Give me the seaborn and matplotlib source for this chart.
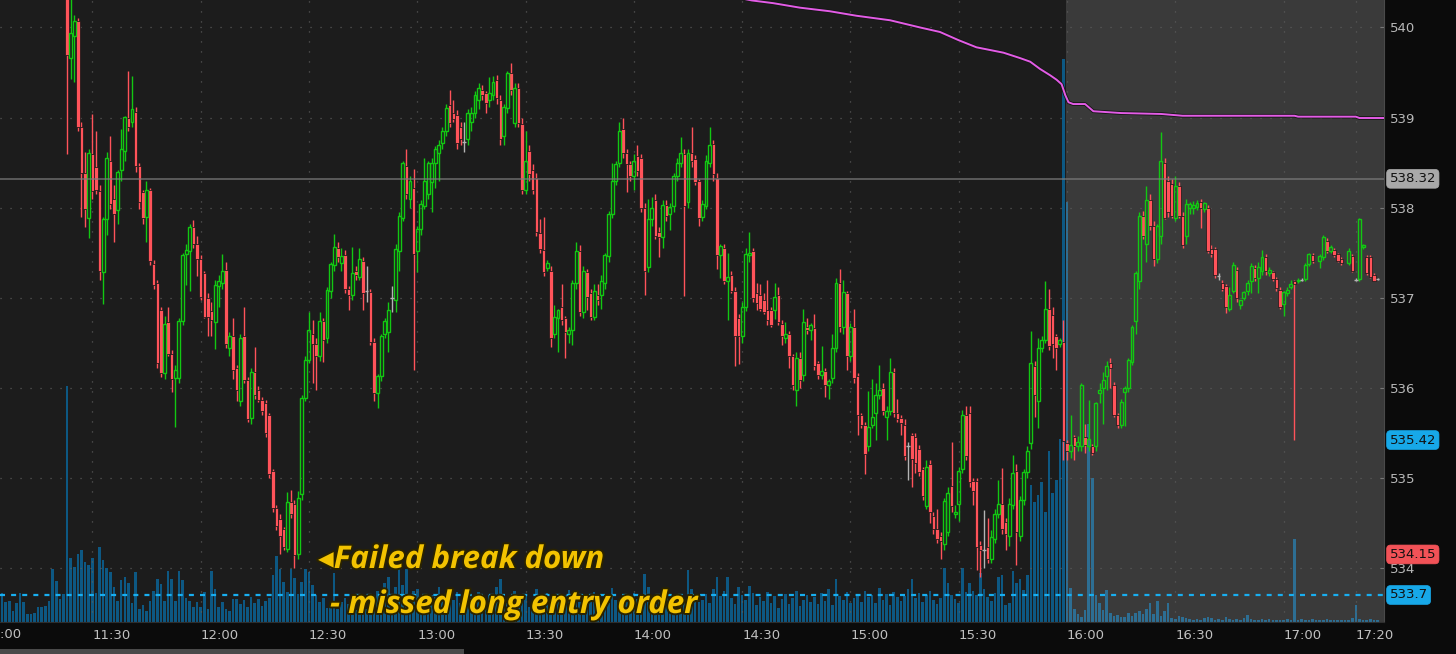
import numpy as np
import pandas as pd
import matplotlib
matplotlib.use("Agg")
import matplotlib.pyplot as plt
import matplotlib.patheffects as pe
from matplotlib.patches import Rectangle
import seaborn as sns

nan = float("nan")

# 1-minute candles, minutes counted from 11:00, first visible candle at 11:23
first_minute = 23
opens = [
    540.60, 539.66, 539.90, 540.07, 538.89, 538.38, 537.89, 538.60, 538.45, 538.19,
    537.28, 537.87, 538.52, 538.10, 537.97, 538.42, 538.63, 539.00, 538.95, 539.06,
    538.46, 538.17, 537.90, 538.20, 537.37, 537.16, 536.86, 536.16, 536.73, 536.38,
    536.11, 536.11, 536.74, 537.48, 537.52, 537.78, 537.60, 537.43, 537.27, 537.00,
    536.85, 536.73, 537.13, 537.16, 537.31, 536.44, 536.58, 536.22, 535.85,
    536.57, 536.09, 535.67, 536.18, 535.98, 535.87, 535.83, 535.70, 535.08, 534.67,
    534.54, 534.43, 534.21, 534.73, 534.71, 534.16, 534.82, 535.89, 536.31, 536.60,
    536.49, 536.35, 536.74, 536.55, 537.08, 537.36, 537.55, 537.38, 537.47, 537.10,
    537.03, 537.30, 537.23, 537.41, 537.07, 537.06, 536.51, 535.94, 536.13, 536.60,
    536.62, 537.00, 536.97, 537.52, 537.89, 538.46, 538.10, 538.22, 537.52, 537.76,
    538.02, 538.15, 538.28, 538.50, 538.61, 538.72, 538.85, 539.14, 539.05, 539.03,
    538.90, 538.73, 538.76,
    538.95, 539.05, 539.20, 539.31, 539.27, 539.20, 539.25, 539.42, 539.20, 538.79,
    539.11, 539.49, 538.94, 539.33, 538.93, 538.20, 538.63, 538.42, 538.33, 537.72,
    537.53, 537.33, 537.30, 536.60, 536.77, 536.90, 536.77, 536.60, 536.64, 537.16,
    537.52, 536.84, 537.28, 537.05, 536.79, 537.03, 537.03, 537.16, 537.46, 537.93,
    538.30, 538.50, 538.87, 538.61, 538.48, 538.35, 538.57, 538.55, 538.00, 537.34,
    537.87, 538.08, 537.73, 537.67, 538.03, 537.93, 538.02, 538.35, 538.50, 538.59,
    538.06, 538.61, 538.54, 538.30,
    537.90, 538.02, 538.50, 538.71, 538.33, 537.47, 537.55, 537.18, 537.25, 537.08,
    536.78, 536.57, 536.90, 537.47, 537.52, 537.05, 537.03, 536.97, 536.86, 536.86,
    536.86, 537.03, 536.71, 536.55, 536.60, 536.35, 535.98, 536.33, 536.14, 536.68,
    536.64, 536.66, 536.27, 536.14, 536.19, 536.03, 536.11, 536.44, 537.16, 536.68,
    537.05, 536.35, 536.68, 536.13, 535.70, 535.59, 535.35, 535.59, 535.72, 535.92,
    536.00, 535.68, 535.74, 536.18, 535.72, 535.67, 535.59, 535.35, 535.48, 535.45,
    535.32, 535.10,
    534.69, 535.15, 534.58, 534.43, 534.35, 534.27, 534.40, 534.91, 534.60, 534.71,
    535.10, 535.70, 535.72, 534.97, 534.97, 534.25, 534.20, 534.23, 534.10, 534.32,
    534.60, 534.71, 534.51, 534.36, 534.70, 535.08, 534.36, 534.75, 535.06, 535.39,
    536.24, 535.85, 536.44, 536.53, 536.88, 536.81, 536.57, 536.49, 536.51, 535.39,
    535.30, 535.45, 535.35, 535.35, 535.45, 535.35, 535.35, 535.35, 535.94, 536.00,
    536.13, 536.27, 536.03, 535.70, 535.59, 535.95, 536.00, 536.29, 536.74, 537.19,
    537.91, 537.60, 538.08, 537.80,
    537.43, 537.69, 538.50, 538.30, 538.26, 537.89, 538.24, 537.91, 537.69, 538.00,
    538.00, 538.01, 538.06, 537.98, 538.00, 537.54, 537.54, 537.24, 537.16, 537.13,
    536.88, 537.08, 537.31, 536.92, 537.00, 537.08, 537.19, 537.33, 537.22, 537.30,
    537.45, 537.27, 537.28, 537.21, 537.09, 536.93, 537.05, 537.12, 537.18, 537.18,
    537.20, 537.21, 537.37, 537.47, nan, 537.41, 537.45, 537.63, 537.52, 537.53,
    537.49, 537.43, nan, 537.38, 537.46, 537.20, 537.21, 537.56, 537.45, 537.45,
    537.25, 537.21,
]
highs = [
    540.80, 540.35, 540.14, 540.10, 538.95, 538.62, 538.65, 539.04, 538.85, 538.25,
    537.90, 538.62, 538.80, 538.25, 538.42, 538.87, 539.02, 539.52, 539.46, 539.12,
    538.50, 538.20, 538.30, 538.22, 537.42, 537.20, 536.90, 536.80, 536.90, 536.42,
    536.25, 536.78, 537.50, 537.60, 537.82, 537.86, 537.68, 537.47, 537.30, 537.05,
    536.95, 537.20, 537.25, 537.48, 537.40, 536.62, 536.78, 536.25, 536.60,
    536.90, 536.12, 536.22, 536.45, 536.02, 535.90, 535.86, 535.72, 535.10, 534.70,
    534.60, 534.45, 534.84, 534.86, 534.75, 534.85, 535.92, 536.35, 536.84, 536.75,
    536.55, 536.84, 536.78, 537.12, 537.40, 537.71, 537.62, 537.55, 537.53, 537.13,
    537.56, 537.35, 537.55, 537.45, 537.35, 537.10, 536.55, 536.15, 536.60, 536.78,
    536.95, 537.13, 537.60, 537.95, 538.52, 538.65, 538.35, 538.43, 537.80, 538.08,
    538.55, 538.52, 538.55, 538.68, 538.75, 538.90, 539.15, 539.31, 539.20, 539.08,
    538.95, 538.95, 539.10,
    539.12, 539.30, 539.38, 539.36, 539.30, 539.45, 539.46, 539.47, 539.25, 539.15,
    539.52, 539.61, 539.38, 539.38, 539.00, 538.85, 538.70, 538.48, 538.38, 537.87,
    537.90, 537.42, 537.35, 536.92, 536.88, 537.15, 536.80, 536.68, 537.20, 537.62,
    537.58, 537.35, 537.32, 537.10, 537.15, 537.15, 537.25, 537.50, 537.96, 538.50,
    538.52, 538.95, 539.00, 538.65, 538.52, 538.60, 538.70, 538.60, 538.05, 538.10,
    538.12, 538.15, 537.78, 538.08, 538.08, 538.05, 538.38, 538.55, 538.78, 538.65,
    538.65, 538.90, 538.58, 538.32,
    538.08, 538.58, 538.90, 538.75, 538.38, 537.60, 537.60, 537.50, 537.30, 537.12,
    536.82, 536.95, 537.55, 537.73, 537.55, 537.16, 537.15, 537.05, 537.20, 536.90,
    537.16, 537.12, 536.75, 536.73, 536.63, 536.38, 536.40, 536.40, 536.88, 536.78,
    536.72, 536.82, 536.30, 536.46, 536.22, 536.10, 536.60, 537.22, 537.32, 537.20,
    537.08, 536.72, 536.88, 536.16, 535.72, 535.62, 535.96, 536.10, 536.05, 536.25,
    536.05, 535.80, 536.33, 536.22, 535.88, 535.70, 535.65, 535.40, 535.50, 535.50,
    535.36, 535.12,
    535.20, 535.20, 534.62, 534.65, 534.40, 534.78, 534.90, 535.40, 534.70, 535.12,
    535.75, 535.80, 535.80, 535.00, 535.00, 534.30, 534.64, 534.55, 534.42, 534.65,
    534.98, 535.11, 534.55, 534.78, 535.25, 535.15, 534.80, 535.10, 535.35, 536.63,
    536.30, 536.55, 536.58, 537.18, 537.10, 536.90, 536.60, 536.55, 536.75, 535.42,
    535.70, 535.48, 535.46, 536.05, 535.60, 535.87, 535.38, 535.84, 536.05, 536.18,
    536.30, 536.33, 536.06, 535.72, 535.88, 536.02, 536.33, 536.70, 537.30, 537.95,
    537.96, 538.24, 538.15, 537.85,
    537.82, 538.84, 538.55, 538.35, 538.32, 538.35, 538.28, 537.95, 538.10, 538.06,
    538.07, 538.08, 538.10, 538.06, 538.03, 537.58, 537.56, 537.27, 537.20, 537.15,
    537.12, 537.40, 537.34, 536.98, 537.08, 537.20, 537.38, 537.36, 537.40, 537.53,
    537.48, 537.34, 537.30, 537.23, 537.12, 537.08, 537.12, 537.20, 537.20, 537.22,
    537.22, 537.38, 537.50, 537.50, nan, 537.48, 537.70, 537.66, 537.58, 537.55,
    537.50, 537.45, nan, 537.55, 537.48, 537.22, 537.88, 537.60, 537.47, 537.47,
    537.27, 537.22,
]
lows = [
    538.60, 539.43, 539.40, 538.85, 537.90, 537.78, 537.66, 538.10, 538.15, 537.20,
    536.93, 537.70, 537.98, 537.62, 537.82, 538.30, 538.52, 538.85, 538.90, 538.40,
    537.98, 537.82, 537.62, 537.36, 537.10, 536.22, 536.12, 536.10, 536.35, 535.95,
    535.57, 536.05, 536.70, 537.14, 537.08, 537.55, 537.24, 536.98, 536.78, 536.57,
    536.57, 536.43, 536.90, 537.10, 536.44, 536.35, 536.10, 535.85, 535.80,
    536.05, 535.62, 535.60, 535.88, 535.84, 535.70, 535.45, 535.00, 534.62, 534.42,
    534.16, 534.20, 534.18, 534.55, 534.00, 534.10, 534.75, 535.85, 536.28, 536.05,
    535.98, 536.30, 536.29, 536.50, 537.00, 537.30, 537.40, 537.30, 537.05, 536.86,
    536.98, 537.20, 537.20, 536.86, 536.95, 536.48, 535.85, 535.78, 536.08, 536.55,
    536.40, 536.84, 536.84, 537.30, 537.85, 538.10, 538.00, 536.20, 537.28, 537.70,
    537.98, 538.10, 537.95, 538.22, 538.30, 538.65, 538.80, 538.90, 538.95, 538.65,
    538.70, 538.62, 538.70,
    538.85, 539.00, 539.10, 539.20, 539.05, 539.12, 539.20, 539.15, 538.70, 538.70,
    539.05, 539.25, 538.90, 538.90, 538.15, 538.15, 538.30, 538.15, 537.68, 537.50,
    537.24, 537.30, 536.45, 536.55, 536.40, 536.70, 536.33, 536.50, 536.48, 537.10,
    536.80, 536.78, 536.86, 536.75, 536.75, 536.92, 536.88, 537.10, 537.40, 537.88,
    538.25, 538.45, 538.55, 538.17, 538.30, 538.20, 538.35, 537.95, 537.03, 537.28,
    537.80, 537.65, 537.45, 537.55, 537.85, 537.75, 537.95, 538.30, 538.45, 537.02,
    538.00, 538.45, 538.25, 537.80,
    537.85, 537.98, 538.45, 538.30, 537.32, 537.22, 537.15, 536.75, 537.05, 536.24,
    536.26, 536.50, 536.85, 537.40, 536.95, 536.86, 536.85, 536.82, 536.70, 536.68,
    536.76, 536.70, 536.48, 536.50, 536.22, 535.97, 535.80, 536.00, 536.08, 536.60,
    536.53, 536.20, 536.10, 536.10, 535.90, 535.88, 536.05, 536.40, 536.62, 536.60,
    536.20, 536.30, 536.05, 535.48, 535.55, 535.04, 535.30, 535.55, 535.42, 535.88,
    535.70, 535.42, 535.70, 535.68, 535.62, 535.48, 535.20, 534.98, 534.90, 535.05,
    535.02, 534.75,
    534.65, 534.50, 534.38, 534.28, 534.10, 534.20, 534.35, 534.62, 534.55, 534.52,
    535.05, 535.20, 534.90, 534.70, 533.98, 533.90, 534.00, 534.05, 534.05, 534.28,
    534.55, 534.38, 534.20, 534.24, 534.65, 534.03, 534.30, 534.70, 535.00, 535.32,
    535.68, 535.55, 536.40, 536.50, 536.42, 536.33, 536.20, 536.45, 535.20, 535.20,
    535.22, 535.20, 535.30, 535.30, 535.28, 535.30, 535.25, 535.30, 535.83, 535.60,
    535.98, 536.00, 535.68, 535.55, 535.55, 535.58, 535.95, 536.25, 536.60, 537.10,
    537.65, 537.40, 537.75, 537.35,
    537.38, 537.60, 537.87, 537.90, 537.88, 537.85, 537.88, 537.55, 537.60, 537.93,
    537.93, 537.97, 537.77, 537.95, 537.50, 537.45, 537.22, 537.20, 537.08, 536.83,
    536.85, 537.05, 536.95, 536.88, 536.97, 537.03, 537.05, 537.18, 537.05, 537.25,
    537.25, 537.24, 537.18, 537.08, 536.88, 536.80, 537.02, 537.10, 535.42, 537.16,
    537.18, 537.19, 537.35, 537.38, nan, 537.33, 537.42, 537.50, 537.50, 537.45,
    537.40, 537.36, nan, 537.36, 537.28, 537.18, 537.19, 537.54, 537.25, 537.22,
    537.18, 537.20,
]
closes = [
    539.69, 539.94, 540.07, 538.89, 538.38, 537.99, 538.61, 538.19, 538.20, 537.30,
    537.87, 538.55, 538.04, 537.93, 538.40, 538.65, 539.01, 538.89, 539.10, 538.46,
    538.06, 537.89, 538.20, 537.41, 537.14, 536.27, 536.16, 536.71, 536.38, 536.10,
    536.20, 536.74, 537.47, 537.53, 537.79, 537.60, 537.43, 537.01, 536.79, 536.79,
    536.75, 537.14, 537.18, 537.30, 536.49, 536.57, 536.20, 535.98, 536.55,
    536.09, 535.65, 536.18, 535.92, 535.87, 535.74, 535.50, 535.04, 534.67, 534.47,
    534.36, 534.23, 534.73, 534.60, 534.14, 534.78, 535.89, 536.31, 536.64, 536.49,
    536.35, 536.74, 536.53, 537.09, 537.37, 537.56, 537.45, 537.46, 537.10, 537.03,
    537.27, 537.25, 537.43, 537.05, 537.07, 536.51, 535.94, 536.13, 536.57, 536.74,
    536.86, 537.00, 537.54, 537.91, 538.49, 538.15, 538.30, 537.49, 537.76, 538.04,
    538.30, 538.49, 538.50, 538.65, 538.70, 538.85, 539.11, 538.94, 538.98, 538.72,
    538.76, 538.73, 539.05,
    539.05, 539.25, 539.33, 539.25, 539.16, 539.27, 539.39, 539.22, 538.76, 539.12,
    539.49, 539.31, 539.33, 538.94, 538.20, 538.52, 538.37, 538.20, 537.73, 537.54,
    537.28, 537.38, 536.55, 536.79, 536.86, 536.75, 536.62, 536.64, 537.16, 537.52,
    536.84, 537.30, 537.01, 536.79, 537.08, 536.97, 537.19, 537.47, 537.93, 538.30,
    538.48, 538.85, 538.61, 538.48, 538.35, 538.52, 538.41, 538.00, 537.30, 537.87,
    538.00, 537.69, 537.67, 538.03, 537.91, 538.01, 538.35, 538.50, 538.61, 538.02,
    538.61, 538.52, 538.28, 537.89,
    538.04, 538.52, 538.70, 538.37, 537.47, 537.57, 537.19, 537.23, 537.08, 536.57,
    536.57, 536.90, 537.49, 537.50, 537.00, 536.94, 536.88, 536.84, 536.75, 536.70,
    537.01, 536.73, 536.58, 536.60, 536.35, 536.03, 536.33, 536.09, 536.73, 536.64,
    536.70, 536.24, 536.14, 536.19, 536.03, 536.07, 536.44, 537.16, 536.68, 537.06,
    536.35, 536.68, 536.11, 535.70, 535.59, 535.26, 535.57, 535.68, 535.92, 535.98,
    535.74, 535.74, 536.18, 535.72, 535.65, 535.61, 535.24, 535.35, 535.21, 535.17,
    535.06, 534.80,
    535.12, 534.62, 534.43, 534.32, 534.30, 534.74, 534.83, 534.69, 534.62, 535.08,
    535.70, 535.24, 534.95, 534.85, 534.23, 534.20, 534.20, 534.10, 534.34, 534.60,
    534.71, 534.43, 534.38, 534.71, 535.05, 534.40, 534.75, 535.06, 535.30, 536.27,
    535.92, 536.44, 536.53, 536.88, 536.46, 536.49, 536.44, 536.53, 535.41, 535.30,
    535.36, 535.35, 535.40, 536.03, 535.37, 535.43, 535.28, 535.83, 535.97, 536.09,
    536.24, 536.22, 535.70, 535.59, 535.84, 536.00, 536.31, 536.68, 537.27, 537.91,
    537.69, 538.08, 537.80, 537.43,
    537.80, 538.52, 537.89, 537.95, 537.91, 538.24, 537.91, 537.59, 538.04, 538.04,
    538.03, 538.05, 538.00, 538.05, 537.52, 537.49, 537.25, 537.24, 537.10, 536.90,
    537.03, 537.36, 537.00, 536.97, 537.06, 537.16, 537.35, 537.22, 537.34, 537.45,
    537.30, 537.31, 537.21, 537.11, 536.90, 537.06, 537.09, 537.15, 537.15, 537.20,
    537.20, 537.36, 537.48, 537.41, nan, 537.46, 537.67, 537.52, 537.56, 537.47,
    537.41, 537.38, nan, 537.52, 537.30, 537.20, 537.87, 537.59, 537.27, 537.23,
    537.19, 537.21,
]

# volume per minute, first bar at 11:05
volume_first_minute = 5
volume = [
    29, 20, 21, 11, 19, 29, 20, 8, 8, 9, 15, 15, 16, 21, 53, 41, 23, 28, 236, 64,
    55, 68, 72, 60, 57, 64, 29, 75, 62, 54, 50, 35, 21, 42, 45, 39, 19, 50, 13, 17,
    11, 21, 31, 43, 38, 21, 51, 43, 21, 51, 42, 24, 21, 15, 20, 15, 30, 13, 51, 33,
    15, 20, 13, 11, 23, 23,
    18, 22, 15, 25, 19, 23, 16, 21, 24,
    47, 66, 53, 40, 30, 53, 44, 28, 40, 53, 50, 37, 27, 20, 24, 14, 17, 49, 13, 20,
    24, 18, 14, 12, 17, 25, 13, 20, 27, 31, 25, 39, 45, 27, 35, 59, 37, 53, 27, 31,
    33, 20, 24, 14, 27, 25, 35, 23, 27, 18, 22, 30, 19, 26, 21,
    24, 18, 30, 22, 16, 27, 20, 35, 43, 28, 19, 24, 31, 17, 22, 26, 15, 20, 33, 25,
    18, 29, 21, 14, 24, 19, 27, 32, 16, 23, 20, 28, 17, 25, 30, 21, 15, 26, 19, 34,
    22, 18, 27, 24, 16, 29, 23, 20, 48, 35, 22, 18, 26, 21, 30, 17, 24, 28, 19, 22,
    52, 33, 25, 20,
    22, 28, 19, 33, 45, 26, 31, 45, 24, 18, 35, 27, 22, 36, 29, 17, 25, 21, 30, 19,
    26, 14, 23, 28, 18, 24, 31, 16, 22, 27, 20, 25, 18, 29, 21, 33, 17, 43, 26, 22,
    30, 19, 24, 28, 20, 31, 25, 27, 19, 34, 22, 28, 17, 30, 25, 21, 26, 33, 43, 24,
    29, 20, 27, 31,
    22, 18, 24, 54, 39, 27, 23, 19, 54, 30, 39, 31, 27, 49, 33, 25, 21, 29, 45, 47,
    17, 19, 51, 39, 43, 32, 47, 137, 120, 127, 140, 110, 171, 129, 142, 183, 563, 420, 34, 13,
    8, 5, 12, 198, 144, 27, 19, 12, 32, 9, 6, 7, 5, 5, 9, 6, 9, 11, 8, 13,
    19, 8, 21, 6,
    11, 19, 4, 3, 6, 5, 4, 3, 2, 3, 2, 4, 5, 4, 2, 3, 2, 5, 3, 2,
    3, 2, 4, 7, 3, 2, 2, 3, 2, 3, 2, 2, 2, 2, 3, 2, 83, 2, 3, 2,
    2, 3, 2, 2, 2, 3, 2, 2, 2, 2, 2, 2, 4, 17, 3, 2, 2, 3, 2, 2,
]

# magenta study line
study_minutes = [200, 212.7, 218.6, 226.0, 234.3, 241.7, 251.0, 259.3, 264.8, 269.9,
                 274.9, 282.4, 287.0, 289.8, 292.5, 295.3, 297.1, 298.5, 299.5, 300.4,
                 301.7, 305.0, 307.3, 315.0, 326.0, 332.0, 363.0, 364.0, 380.0, 381.0, 388.0]
study_prices = [540.40, 540.30, 540.27, 540.22, 540.18, 540.13, 540.08, 540.00, 539.95, 539.86,
                539.78, 539.72, 539.66, 539.62, 539.54, 539.47, 539.42, 539.37, 539.25, 539.17,
                539.15, 539.15, 539.07, 539.05, 539.04, 539.02, 539.02, 539.01, 539.01, 538.995,
                538.995]

time_ticks = [30, 60, 90, 120, 150, 180, 210, 240, 270, 300, 330, 360, 380]
time_labels = ["11:30", "12:00", "12:30", "13:00", "13:30", "14:00", "14:30",
               "15:00", "15:30", "16:00", "16:30", "17:00", "17:20"]
price_ticks = [534, 535, 536, 537, 538, 539, 540]
after_hours_start = 300
last_price = 538.32
order_price = 533.7
tag_prices = [538.32, 535.42, 534.15, 533.7]
tag_texts = ["538.32", "535.42", "534.15", "533.7"]
tag_colors = ["#a9a9a9", "#17a8e8", "#f25257", "#17a8e8"]
note_lines = ["\u25c2Failed break down", "- missed long entry order"]

GREEN = "#12c812"
RED = "#ff535a"
GRAY = "#b4b4b4"
BG = "#1c1c1c"

sns.set_style("dark")
plt.rcParams["font.family"] = ["DejaVu Sans"]
plt.rcParams["lines.scale_dashes"] = False

candles = pd.DataFrame({
    "minute": first_minute + np.arange(len(opens)),
    "open": opens, "high": highs, "low": lows, "close": closes,
}).dropna()
candles["top"] = candles[["open", "close"]].max(axis=1)
candles["bot"] = candles[["open", "close"]].min(axis=1)
up = candles[candles.close > candles.open]
down = candles[candles.close < candles.open]
flat = candles[candles.close == candles.open]

vol = pd.DataFrame({"minute": volume_first_minute + np.arange(len(volume)),
                    "volume": volume})

fig = plt.figure(figsize=(14.56, 6.54), dpi=100, facecolor="#0b0b0b")
ax = fig.add_axes([0, 32 / 654, 1384 / 1456, 622 / 654])
axv = ax.twinx()
ax.set_zorder(axv.get_zorder() + 1)
ax.patch.set_visible(False)
axv.patch.set_visible(True)
axv.set_facecolor(BG)

# volume underneath
axv.bar(vol.minute, vol.volume, width=0.72, color="#0d5883", linewidth=0)
axv.set_ylim(0, 622)
axv.yaxis.set_visible(False)
for s in axv.spines.values():
    s.set_visible(False)

# after-hours shading
ax.axvspan(after_hours_start - 0.2, 400, color="white", alpha=0.135, lw=0, zorder=0.2)

# grid
ax.set_axisbelow(True)
ax.grid(True, color="#5e5e5e", lw=0.9, linestyle=(0, (0.8, 6.4)))

# candles
w = 0.95
for frame, col in [(up, GREEN), (down, RED), (flat, GRAY)]:
    ax.vlines(frame.minute, frame.top, frame.high, color=col, lw=1.0, zorder=3)
    ax.vlines(frame.minute, frame.low, frame.bot, color=col, lw=1.0, zorder=3)
ax.bar(down.minute, (down.open - down.close).clip(lower=0.012), bottom=down.close,
       width=w, color=RED, edgecolor="#151515", linewidth=0.5, zorder=4)
ax.bar(up.minute, (up.close - up.open).clip(lower=0.012), bottom=up.open,
       width=w * 0.85, facecolor="none", edgecolor=GREEN, linewidth=1.0, zorder=4)
ax.hlines(flat.close, flat.minute - w / 2, flat.minute + w / 2, color=GRAY, lw=1.0, zorder=4)

# study line
sns.lineplot(x=study_minutes, y=study_prices, ax=ax, color="#e35ce6", lw=1.4, zorder=5,
             path_effects=[pe.Stroke(linewidth=2.6, foreground="#151515"), pe.Normal()])

# price lines
ax.axhline(last_price, color="#7d7d7d", lw=1.2, alpha=0.75, zorder=6)
ax.axhline(order_price, color="#18aef0", lw=1.6, dashes=(3.6, 4.4), zorder=6)

ax.set_xlim(4.43, 387.8)
ax.set_ylim(533.40, 540.305)

# axes cosmetics
for name, s in ax.spines.items():
    s.set_visible(name in ("right", "bottom"))
ax.spines["right"].set_color("#4a4a4a")
ax.spines["bottom"].set_color("#2e2e2e")
ax.yaxis.tick_right()
ax.set_yticks(price_ticks)
ax.set_yticklabels([str(p) for p in price_ticks])
ax.tick_params(axis="y", direction="in", length=3, color="#777777", pad=4,
               labelcolor="#b8b8b8", labelsize=9.5)
ax.set_xticks(time_ticks)
ax.set_xticklabels(time_labels)
ax.tick_params(axis="x", length=0, pad=5, labelcolor="#c0c0c0", labelsize=9.5)
for lab in ax.get_xticklabels():
    lab.set_horizontalalignment("left")
ax.set_xlabel("")
ax.set_ylabel("")
# first time label is cut by the left edge, as on the original screen
fig.text(-16 / 1456, 1 - 635 / 654, "11:00", ha="left", va="center",
         color="#c0c0c0", fontsize=9.5)

# right-hand price tags
ytrans = ax.get_yaxis_transform()
for p, t, c in zip(tag_prices, tag_texts, tag_colors):
    ax.annotate(t, xy=(1, p), xycoords=ytrans, xytext=(4, 0), textcoords="offset points",
                ha="left", va="center", fontsize=9.5, color="#111111", annotation_clip=False,
                bbox=dict(boxstyle="round,pad=0.22,rounding_size=0.3", fc=c, ec=c, lw=0.5),
                zorder=10)

# handwritten-style note
note_kw = dict(ha="left", va="center", color="#f3c300", fontsize=22.5, fontweight="bold",
               style="italic", family=["Open Sans", "DejaVu Sans"], zorder=20,
               path_effects=[pe.withStroke(linewidth=2.8, foreground="#2a2300")])
fig.text(318 / 1456, 1 - 560 / 654, note_lines[0], **note_kw)
fig.text(330 / 1456, 1 - 605 / 654, note_lines[1], **note_kw)

# scrollbar strip at the bottom
fig.add_artist(Rectangle((0, 0), 464 / 1456, 5 / 654, transform=fig.transFigure,
                         color="#4a4a4a", lw=0))

fig.savefig("out.png", dpi=100, facecolor=fig.get_facecolor())
